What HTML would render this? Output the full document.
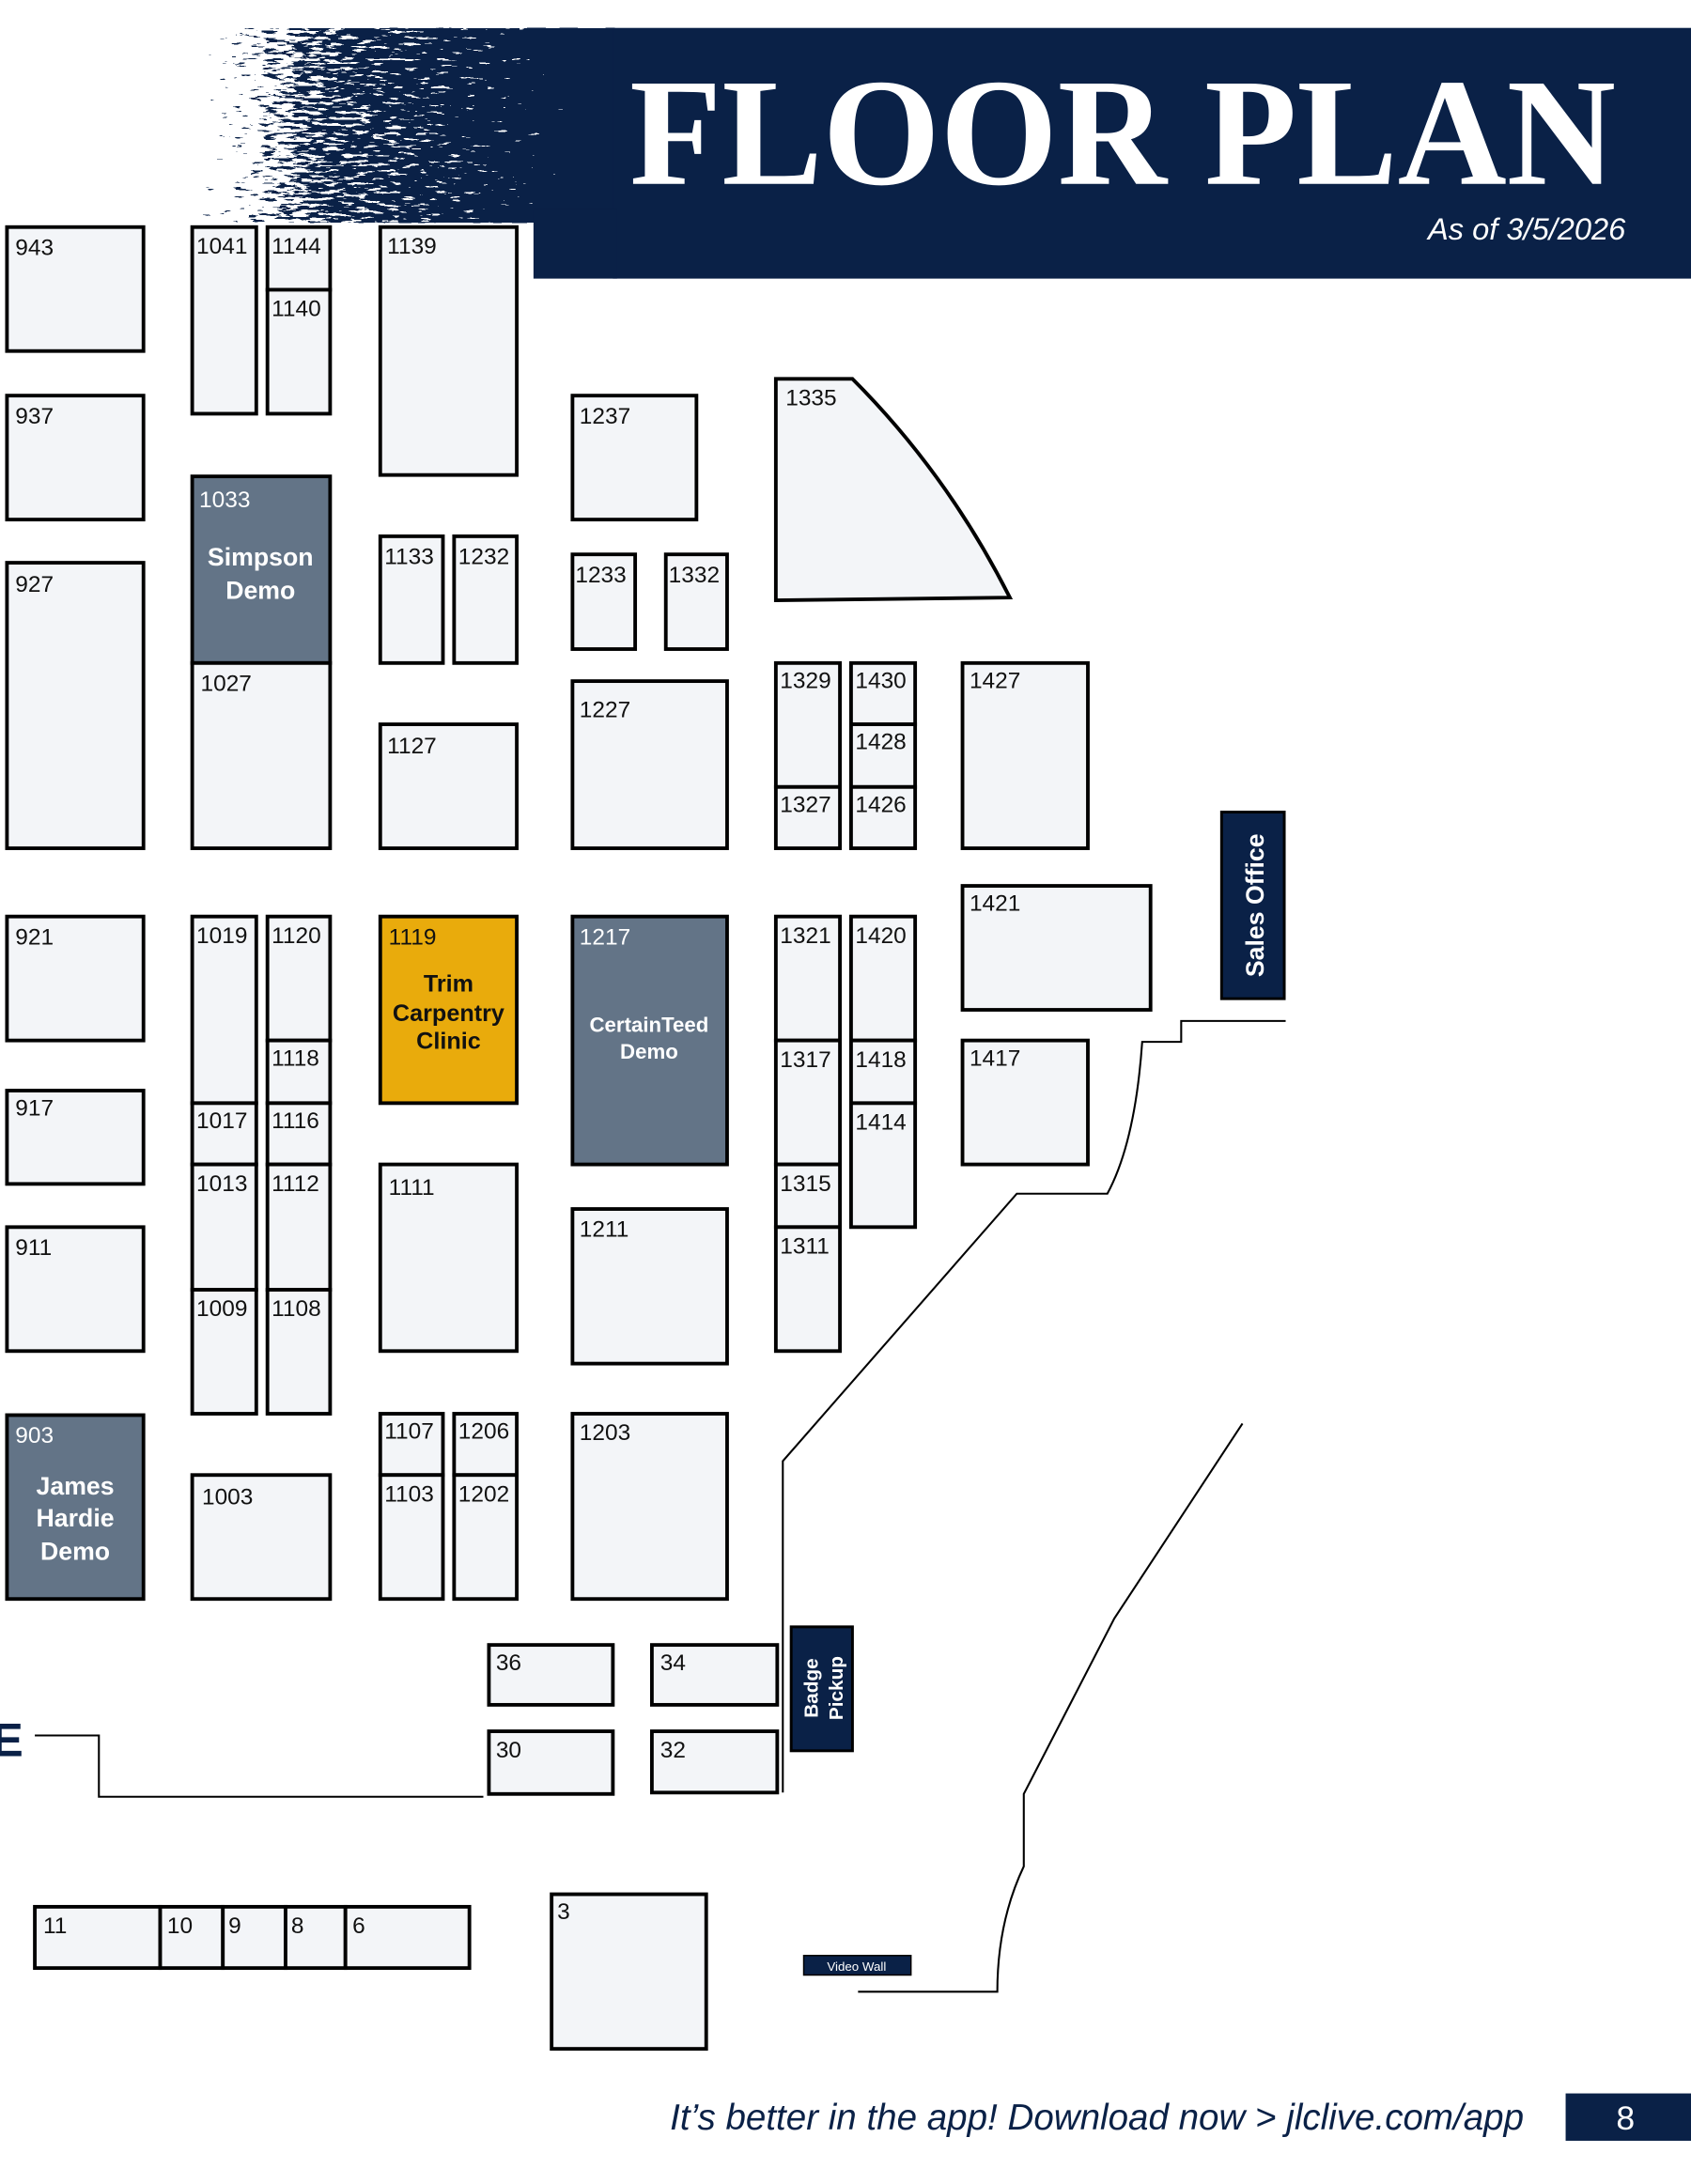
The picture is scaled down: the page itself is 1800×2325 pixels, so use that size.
<!DOCTYPE html>
<html><head><meta charset="utf-8"><style>
html,body{margin:0;padding:0;background:#fff}
svg{display:block}
text{font-family:"Liberation Sans","DejaVu Sans",sans-serif}
</style></head><body>
<svg width="1800" height="2325" viewBox="0 0 1214 1568" xmlns="http://www.w3.org/2000/svg">
<defs>
<style>
.b{fill:#f3f5f8;stroke:#000;stroke-width:2.6}
.s{fill:#637487;stroke:#000;stroke-width:2.6}
.l{font-size:16.5px;fill:#111}
.w{font-size:16.5px;fill:#fff}
.bw{font-size:18px;fill:#fff;font-weight:bold;text-anchor:middle}
.ln{fill:none;stroke:#000;stroke-width:1.4}
</style>
<linearGradient id="gr" x1="0" y1="0" x2="1" y2="0">
<stop offset="0" stop-color="#000" stop-opacity="0"/>
<stop offset="0.35" stop-color="#000" stop-opacity="0.55"/>
<stop offset="0.75" stop-color="#000" stop-opacity="0.75"/>
<stop offset="1" stop-color="#000" stop-opacity="0.95"/>
</linearGradient>
<filter id="gf" x="0" y="0" width="1" height="1" color-interpolation-filters="sRGB">
<feTurbulence type="fractalNoise" baseFrequency="0.09 0.45" numOctaves="3" seed="7" result="n"/>
<feColorMatrix in="n" type="matrix" values="0 0 0 0 0  0 0 0 0 0  0 0 0 0 0  1 0 0 0 0" result="na"/>
<feComposite in="SourceGraphic" in2="na" operator="arithmetic" k1="0" k2="1" k3="1" k4="-0.5" result="c"/>
<feComponentTransfer in="c" result="t"><feFuncA type="discrete" tableValues="0 1"/></feComponentTransfer>
<feFlood flood-color="#0a2147" result="f"/>
<feComposite in="f" in2="t" operator="in"/>
</filter>
</defs>
<!-- header -->
<rect x="105" y="20" width="345" height="140" fill="url(#gr)" filter="url(#gf)"/>
<g fill="#0a2147">
<rect x="440" y="20" width="774" height="180"/>
<rect x="383" y="150" width="60" height="50"/>
</g>
<text x="452" y="132" style="font-family:'Liberation Serif',serif;font-weight:bold;font-size:110px" fill="#fff" textLength="708" lengthAdjust="spacingAndGlyphs">FLOOR PLAN</text>
<text x="1167" y="172" font-style="italic" font-size="22" fill="#fff" text-anchor="end">As of 3/5/2026</text>

<!-- booths -->
<g>
<rect class="b" x="5" y="163" width="98" height="89"/><text class="l" x="11" y="183">943</text>
<rect class="b" x="5" y="284" width="98" height="89"/><text class="l" x="11" y="304">937</text>
<rect class="b" x="5" y="404" width="98" height="205"/><text class="l" x="11" y="425">927</text>
<rect class="b" x="5" y="658" width="98" height="89"/><text class="l" x="11" y="678">921</text>
<rect class="b" x="5" y="783" width="98" height="67"/><text class="l" x="11" y="801">917</text>
<rect class="b" x="5" y="881" width="98" height="89"/><text class="l" x="11" y="901">911</text>
<rect class="s" x="5" y="1016" width="98" height="132"/><text class="w" x="11" y="1036">903</text>
<text class="bw" x="54" y="1073">James</text><text class="bw" x="54" y="1096">Hardie</text><text class="bw" x="54" y="1120">Demo</text>

<rect class="b" x="138" y="163" width="46" height="134"/><text class="l" x="141" y="182">1041</text>
<rect class="b" x="192" y="163" width="45" height="45"/><text class="l" x="195" y="182">1144</text>
<rect class="b" x="192" y="208" width="45" height="89"/><text class="l" x="195" y="227">1140</text>
<rect class="b" x="273" y="163" width="98" height="178"/><text class="l" x="278" y="182">1139</text>
<rect class="s" x="138" y="342" width="99" height="134"/><text class="w" x="143" y="364">1033</text>
<text class="bw" x="187" y="406">Simpson</text><text class="bw" x="187" y="430">Demo</text>
<rect class="b" x="138" y="476" width="99" height="133"/><text class="l" x="144" y="496">1027</text>
<rect class="b" x="273" y="385" width="45" height="91"/><text class="l" x="276" y="405">1133</text>
<rect class="b" x="326" y="385" width="45" height="91"/><text class="l" x="329" y="405">1232</text>
<rect class="b" x="411" y="284" width="89" height="89"/><text class="l" x="416" y="304">1237</text>
<rect class="b" x="411" y="398" width="45" height="68"/><text class="l" x="413" y="418">1233</text>
<rect class="b" x="478" y="398" width="44" height="68"/><text class="l" x="480" y="418">1332</text>
<path class="b" d="M557,272 L612,272 Q680,340 725,429 L557,431 Z"/><text class="l" x="564" y="291">1335</text>
<rect class="b" x="273" y="520" width="98" height="89"/><text class="l" x="278" y="541">1127</text>
<rect class="b" x="411" y="489" width="111" height="120"/><text class="l" x="416" y="515">1227</text>
<rect class="b" x="557" y="476" width="46" height="89"/><text class="l" x="560" y="494">1329</text>
<rect class="b" x="557" y="565" width="46" height="44"/><text class="l" x="560" y="583">1327</text>
<rect class="b" x="611" y="476" width="46" height="44"/><text class="l" x="614" y="494">1430</text>
<rect class="b" x="611" y="520" width="46" height="45"/><text class="l" x="614" y="538">1428</text>
<rect class="b" x="611" y="565" width="46" height="44"/><text class="l" x="614" y="583">1426</text>
<rect class="b" x="691" y="476" width="90" height="133"/><text class="l" x="696" y="494">1427</text>
<rect class="b" x="691" y="636" width="135" height="89"/><text class="l" x="696" y="654">1421</text>
<rect class="b" x="691" y="747" width="90" height="89"/><text class="l" x="696" y="765">1417</text>

<rect class="b" x="138" y="658" width="46" height="134"/><text class="l" x="141" y="677">1019</text>
<rect class="b" x="138" y="792" width="46" height="44"/><text class="l" x="141" y="810">1017</text>
<rect class="b" x="138" y="836" width="46" height="90"/><text class="l" x="141" y="855">1013</text>
<rect class="b" x="138" y="926" width="46" height="89"/><text class="l" x="141" y="945">1009</text>
<rect class="b" x="192" y="658" width="45" height="89"/><text class="l" x="195" y="677">1120</text>
<rect class="b" x="192" y="747" width="45" height="45"/><text class="l" x="195" y="765">1118</text>
<rect class="b" x="192" y="792" width="45" height="44"/><text class="l" x="195" y="810">1116</text>
<rect class="b" x="192" y="836" width="45" height="90"/><text class="l" x="195" y="855">1112</text>
<rect class="b" x="192" y="926" width="45" height="89"/><text class="l" x="195" y="945">1108</text>
<rect x="273" y="658" width="98" height="134" fill="#e9ab0c" stroke="#000" stroke-width="2.6"/><text class="l" x="279" y="678">1119</text>
<text x="322" y="712" font-size="17" font-weight="bold" text-anchor="middle" fill="#111">Trim</text>
<text x="322" y="733" font-size="17" font-weight="bold" text-anchor="middle" fill="#111">Carpentry</text>
<text x="322" y="753" font-size="17" font-weight="bold" text-anchor="middle" fill="#111">Clinic</text>
<rect class="s" x="411" y="658" width="111" height="178"/><text class="w" x="416" y="678">1217</text>
<text x="466" y="741" font-size="15" font-weight="bold" text-anchor="middle" fill="#fff">CertainTeed</text>
<text x="466" y="760" font-size="15" font-weight="bold" text-anchor="middle" fill="#fff">Demo</text>
<rect class="b" x="273" y="836" width="98" height="134"/><text class="l" x="279" y="858">1111</text>
<rect class="b" x="411" y="868" width="111" height="111"/><text class="l" x="416" y="888">1211</text>
<rect class="b" x="557" y="658" width="46" height="89"/><text class="l" x="560" y="677">1321</text>
<rect class="b" x="557" y="747" width="46" height="89"/><text class="l" x="560" y="766">1317</text>
<rect class="b" x="557" y="836" width="46" height="45"/><text class="l" x="560" y="855">1315</text>
<rect class="b" x="557" y="881" width="46" height="89"/><text class="l" x="560" y="900">1311</text>
<rect class="b" x="611" y="658" width="46" height="89"/><text class="l" x="614" y="677">1420</text>
<rect class="b" x="611" y="747" width="46" height="45"/><text class="l" x="614" y="766">1418</text>
<rect class="b" x="611" y="792" width="46" height="89"/><text class="l" x="614" y="811">1414</text>

<rect class="b" x="138" y="1059" width="99" height="89"/><text class="l" x="145" y="1080">1003</text>
<rect class="b" x="273" y="1015" width="45" height="44"/><text class="l" x="276" y="1033">1107</text>
<rect class="b" x="273" y="1059" width="45" height="89"/><text class="l" x="276" y="1078">1103</text>
<rect class="b" x="326" y="1015" width="45" height="44"/><text class="l" x="329" y="1033">1206</text>
<rect class="b" x="326" y="1059" width="45" height="89"/><text class="l" x="329" y="1078">1202</text>
<rect class="b" x="411" y="1015" width="111" height="133"/><text class="l" x="416" y="1034">1203</text>
<rect class="b" x="351" y="1181" width="89" height="43"/><text class="l" x="356" y="1199">36</text>
<rect class="b" x="351" y="1243" width="89" height="45"/><text class="l" x="356" y="1262">30</text>
<rect class="b" x="468" y="1181" width="90" height="43"/><text class="l" x="474" y="1199">34</text>
<rect class="b" x="468" y="1243" width="90" height="44"/><text class="l" x="474" y="1262">32</text>
<rect class="b" x="25" y="1369" width="90" height="44"/><text class="l" x="31" y="1388">11</text>
<rect class="b" x="115" y="1369" width="45" height="44"/><text class="l" x="120" y="1388">10</text>
<rect class="b" x="160" y="1369" width="45" height="44"/><text class="l" x="164" y="1388">9</text>
<rect class="b" x="205" y="1369" width="43" height="44"/><text class="l" x="209" y="1388">8</text>
<rect class="b" x="248" y="1369" width="89" height="44"/><text class="l" x="253" y="1388">6</text>
<rect class="b" x="396" y="1360" width="111" height="111"/><text class="l" x="400" y="1378">3</text>
</g>

<!-- special -->
<rect x="877" y="583" width="45" height="134" fill="#0a2147" stroke="#000" stroke-width="2"/>
<text transform="translate(907,650) rotate(-90)" font-size="18" font-weight="bold" fill="#fff" text-anchor="middle">Sales Office</text>
<rect x="568" y="1168" width="44" height="89" fill="#0a2147" stroke="#000" stroke-width="2"/>
<text transform="translate(587,1212) rotate(-90)" font-size="14" font-weight="bold" fill="#fff" text-anchor="middle">Badge</text>
<text transform="translate(605,1212) rotate(-90)" font-size="14" font-weight="bold" fill="#fff" text-anchor="middle">Pickup</text>
<rect x="577" y="1404" width="77" height="14" fill="#0a2147" stroke="#000" stroke-width="1"/>
<text x="615" y="1415" font-size="9" fill="#fff" text-anchor="middle">Video Wall</text>

<!-- lines -->
<path class="ln" d="M923,733 L848,733 L848,748 L820,748 Q815,820 795,857 L730,857 L562,1049 L562,1287"/>
<path class="ln" d="M892,1022 L800,1162 L735,1288 L735,1340 Q716,1380 716,1430 L616,1430"/>
<path class="ln" d="M25,1246 L71,1246 L71,1290 L347,1290"/>
<text x="-6" y="1261" font-size="34" font-weight="bold" fill="#0a2147">E</text>

<!-- footer -->
<text x="1094" y="1529" font-size="26" font-style="italic" fill="#0a2147" text-anchor="end">It’s better in the app! Download now &gt; jlclive.com/app</text>
<rect x="1124" y="1503" width="90" height="34" fill="#0a2147"/>
<text x="1167" y="1529" font-size="24" fill="#fff" text-anchor="middle">8</text>
</svg>
</body></html>
